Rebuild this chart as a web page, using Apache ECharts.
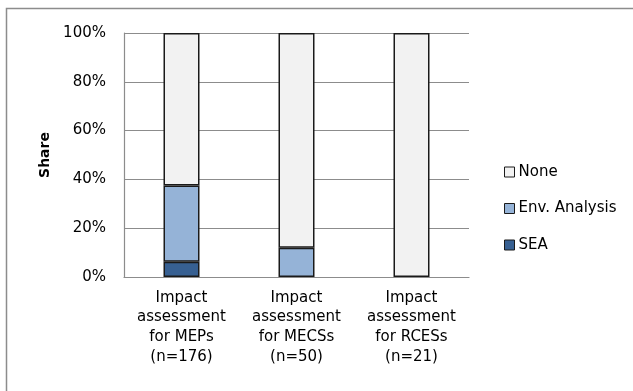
<!DOCTYPE html>
<html>
<head>
<meta charset="utf-8">
<script src="https://cdn.jsdelivr.net/npm/echarts@6/dist/echarts.min.js"></script>
<style>
  html, body { margin: 0; padding: 0; background: #fff; }
  #chart { width: 633px; height: 391px; }
</style>
</head>
<body>
<div id="chart"></div>
<script>
// Share of impact assessment types per group (percent)
const categories = [
  'Impact\nassessment\nfor MEPs\n(n=176)',
  'Impact\nassessment\nfor MECSs\n(n=50)',
  'Impact\nassessment\nfor RCESs\n(n=21)'
];
const seaShare = [6.25, 0, 0];
const envShare = [31.25, 12, 0];
const noneShare = [62.5, 88, 100];
const yTicks = [0, 20, 40, 60, 80, 100];

const font = '"DejaVu Sans", "Liberation Sans", sans-serif';
const barBorder = { borderColor: '#1a1a1a', borderWidth: 1.5 };

const chart = echarts.init(document.getElementById('chart'), null, { renderer: 'canvas' });

// zero shares are left empty so no flat outline is drawn on the baseline
function barSeries(name, data, color) {
  return {
    name: name,
    type: 'bar',
    stack: 'share',
    barWidth: 36,
    data: data.map(v => (v === 0 ? '-' : v)),
    itemStyle: Object.assign({ color: color }, barBorder),
    emphasis: { disabled: true }
  };
}

chart.setOption({
  animation: false,
  textStyle: { fontFamily: font },
  graphic: [{
    type: 'rect',
    shape: { x: 6.5, y: 8.5, width: 660, height: 420 },
    style: { fill: 'none', stroke: '#8c8c8c', lineWidth: 1.5 },
    z: -1
  }],
  grid: { left: 124, right: 164, top: 33, bottom: 114 },
  legend: {
    orient: 'vertical',
    left: 499,
    top: 158,
    icon: 'rect',
    itemWidth: 10,
    itemHeight: 10,
    itemGap: 18.5,
    itemStyle: { borderWidth: 1, borderColor: '#1a1a1a' },
    data: ['None', 'Env. Analysis', 'SEA'],
    textStyle: { fontFamily: font, fontSize: 15, lineHeight: 18, color: '#000', padding: [0, 0, 0, -1] }
  },
  xAxis: {
    type: 'category',
    data: categories,
    axisLine: { lineStyle: { color: '#8c8c8c', width: 1.2 } },
    axisTick: { show: false },
    axisLabel: {
      fontFamily: font,
      fontSize: 15,
      color: '#000',
      lineHeight: 19.7,
      margin: 11,
      interval: 0
    }
  },
  yAxis: {
    type: 'value',
    min: yTicks[0],
    max: yTicks[yTicks.length - 1],
    interval: yTicks[1] - yTicks[0],
    name: 'Share',
    nameLocation: 'middle',
    nameGap: 72,
    nameTextStyle: { fontFamily: font, fontSize: 14, fontWeight: 'bold', color: '#000' },
    axisLine: { show: true, lineStyle: { color: '#8c8c8c', width: 1.2 } },
    axisTick: { show: false },
    splitLine: { lineStyle: { color: '#8c8c8c', width: 1.2 } },
    axisLabel: {
      fontFamily: font,
      fontSize: 15,
      color: '#000',
      margin: 18,
      formatter: v => v + '%'
    }
  },
  series: [
    barSeries('SEA', seaShare, '#376092'),
    barSeries('Env. Analysis', envShare, '#95b3d7'),
    barSeries('None', noneShare, '#f2f2f2')
  ]
});
</script>
</body>
</html>
